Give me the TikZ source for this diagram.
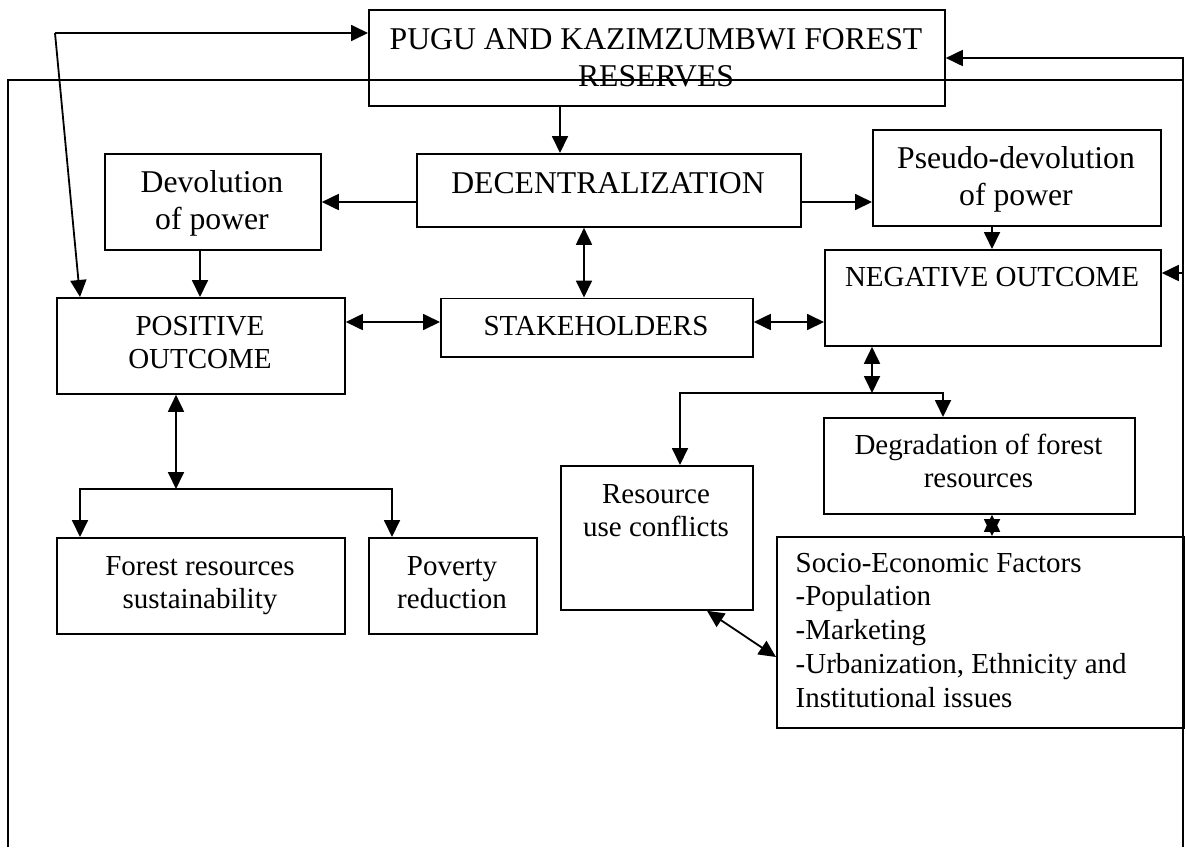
\documentclass[tikz,border=0pt]{standalone}
\usepackage{fontspec}
\setmainfont{Liberation Serif}
\usetikzlibrary{arrows.meta}
\tikzset{
  box/.style={draw, line width=1.8pt, inner sep=0pt, anchor=north west},
  conn/.style={line width=1.8pt},
  arr/.style={conn, -{Triangle[length=17pt,width=16pt]}},
  dbl/.style={conn, {Triangle[length=17pt,width=16pt]}-{Triangle[length=17pt,width=16pt]}},
  big/.style={inner sep=0pt, anchor=base, font=\fontsize{31.7}{36}\selectfont},
  small/.style={inner sep=0pt, anchor=base, font=\fontsize{29}{33}\selectfont},
  smallL/.style={small, anchor=base west}
}
\begin{document}
\begin{tikzpicture}[x=1pt,y=-1pt]
\useasboundingbox (0,0) rectangle (1186,847);
% boxes
\node[box, minimum width=576pt, minimum height=96pt] (pugu) at (368,9) {};
\node[box, minimum width=384pt, minimum height=73pt] (dec) at (416,153) {};
\node[box, minimum width=216pt, minimum height=96pt] (devo) at (104,153) {};
\node[box, minimum width=288pt, minimum height=96pt] (pseudo) at (872,129) {};
\node[box, minimum width=336pt, minimum height=96pt] (neg) at (824,249) {};
\node[box, minimum width=288pt, minimum height=96pt] (pos) at (56,297) {};
\node[box, minimum width=312pt, minimum height=58.5pt] (stake) at (440,297.5) {};
\node[box, minimum width=288pt, minimum height=96pt] (forest) at (56,537) {};
\node[box, minimum width=168pt, minimum height=96pt] (pov) at (368,537) {};
\node[box, minimum width=192pt, minimum height=144pt] (res) at (560,465) {};
\node[box, minimum width=311pt, minimum height=96pt] (deg) at (823,417) {};
\node[box, minimum width=407pt, minimum height=191pt] (socio) at (776,536) {};
% texts
\node[big] (puguA) at (656,49.3) {PUGU AND KAZIMZUMBWI FOREST};
\node[big] (puguB) at (656,86) {RESERVES};
\node[big] (decT) at (608,193.3) {DECENTRALIZATION};
\node[big] (devoA) at (212,192.7) {Devolution};
\node[big] (devoB) at (212,229.5) {of power};
\node[big] (pseudoA) at (1016,168.3) {Pseudo-devolution};
\node[big] (pseudoB) at (1016,205) {of power};
\node[small] (negT) at (992,286.7) {NEGATIVE OUTCOME};
\node[small] (posA) at (200,335) {POSITIVE};
\node[small] (posB) at (200,368.3) {OUTCOME};
\node[small] (stakeT) at (596,335) {STAKEHOLDERS};
\node[small] (forestA) at (200,575) {Forest resources};
\node[small] (forestB) at (200,608.3) {sustainability};
\node[small] (povA) at (452,575) {Poverty};
\node[small] (povB) at (452,608.3) {reduction};
\node[small] (resA) at (656,503) {Resource};
\node[small] (resB) at (656,536) {use conflicts};
\node[small] (degA) at (978.5,454) {Degradation of forest};
\node[small] (degB) at (978.5,487.3) {resources};
\node[smallL] (socA) at (795.5,572.3) {Socio-Economic Factors};
\node[smallL] (socB) at (795.5,605.7) {-Population};
\node[smallL] (socC) at (795.5,639) {-Marketing};
\node[smallL] (socD) at (795.5,673.3) {-Urbanization, Ethnicity and};
\node[smallL] (socE) at (795.5,707.3) {Institutional issues};
% helper coordinates
\coordinate (tl) at (55,33);
\coordinate (tr) at (1183,58);
\coordinate (br) at (1183,847);
\coordinate (bl) at (8,847);
\coordinate (ftl) at (8,80);
\coordinate (pb) at (176,489);
\coordinate (nb) at (872,393);
% frame
\draw[conn] (bl) -- (ftl) -- (tr |- ftl);
\draw[arr] (br) -- (tr) -- (pugu.east |- tr);
\draw[arr] (tr |- 0,273) -- (neg.east |- 0,273);
% connectors
\draw[arr] (tl) -- (pugu.west |- tl);
\draw[arr] (tl) -- (80,0 |- pos.north);
\draw[arr] (560,0 |- pugu.south) -- (560,0 |- dec.north);
\draw[arr] (dec.west |- 0,202) -- (devo.east |- 0,202);
\draw[arr] (dec.east |- 0,202) -- (pseudo.west |- 0,202);
\draw[arr] (200,0 |- devo.south) -- (200,0 |- pos.north);
\draw[arr] (992,0 |- pseudo.south) -- (992,0 |- neg.north);
\draw[dbl] (584,0 |- dec.south) -- (584,0 |- stake.north);
\draw[dbl] (pos.east |- 0,322) -- (stake.west |- 0,322);
\draw[dbl] (stake.east |- 0,322) -- (neg.west |- 0,322);
\draw[dbl] (176,0 |- pos.south) -- (pb);
\draw[dbl] (80,0 |- forest.north) -- (80,0 |- pb) -- (392,0 |- pb) -- (392,0 |- pov.north);
\draw[dbl] (872,0 |- neg.south) -- (nb);
\draw[dbl] (680,0 |- res.north) -- (680,0 |- nb) -- (943,0 |- nb) -- (943,0 |- deg.north);
\draw[dbl] (992,0 |- deg.south) -- (992,0 |- socio.north);
\draw[dbl] (707,0 |- res.south) -- (socio.west |- 0,657);
\end{tikzpicture}
\end{document}
